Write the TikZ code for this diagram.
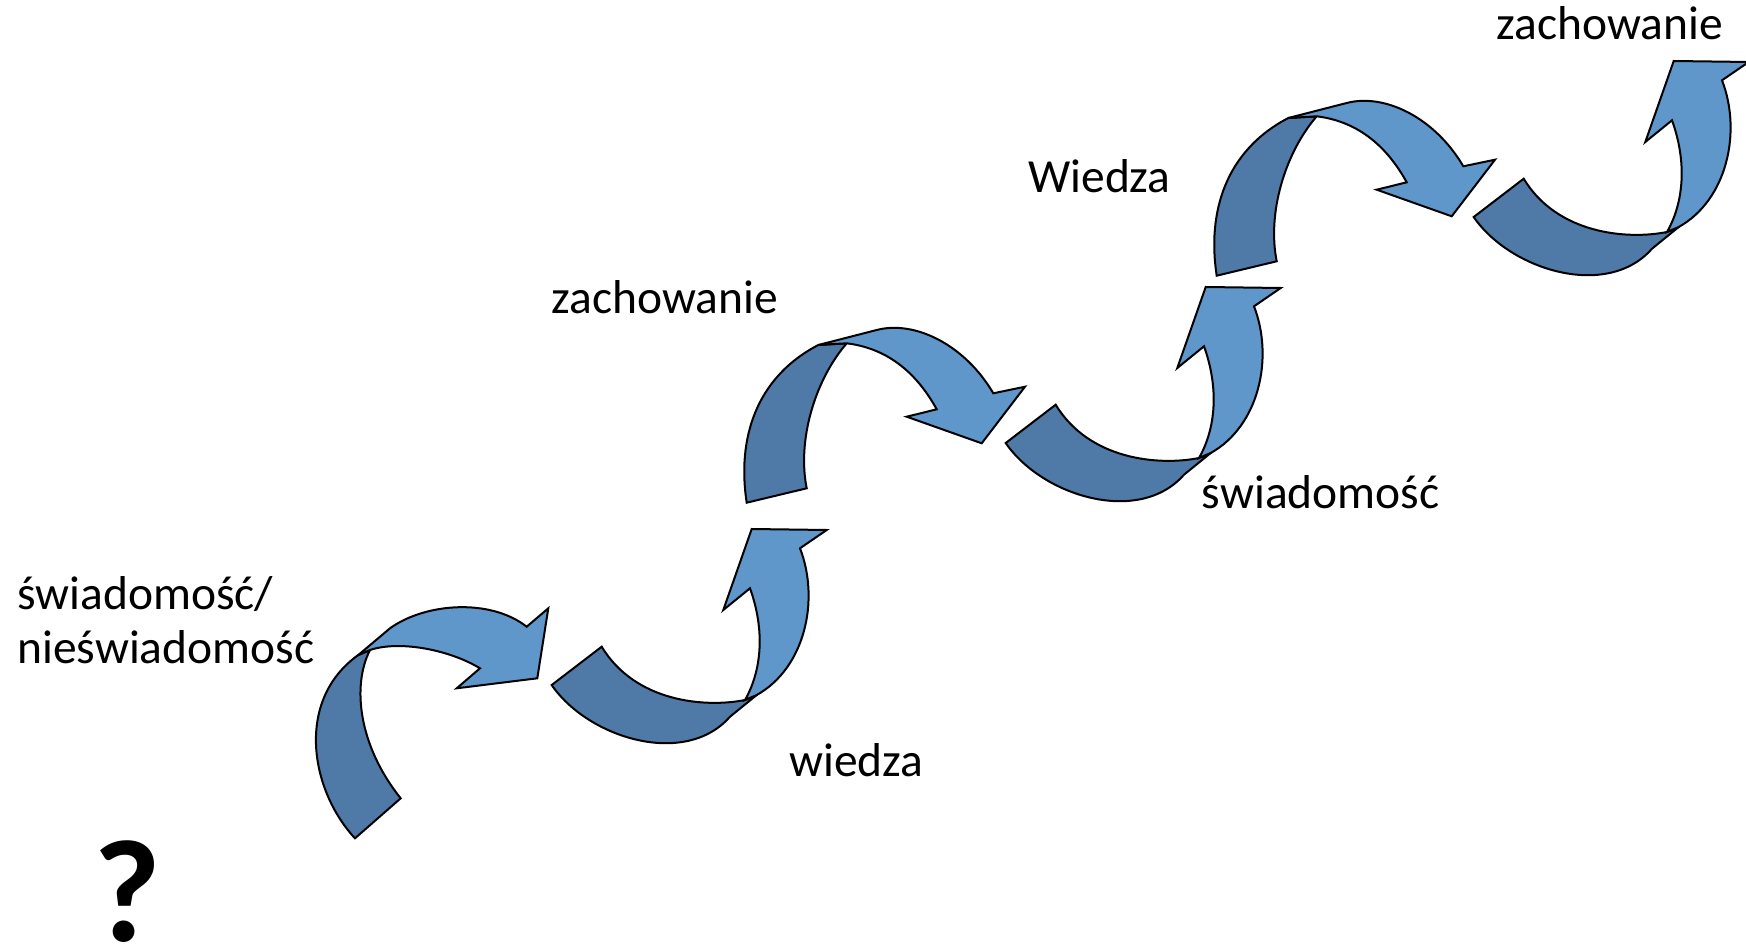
\documentclass[tikz,border=0pt]{standalone}
\usepackage{fontspec}
\setmainfont{Carlito}
\definecolor{lightblue}{RGB}{96,151,202}
\definecolor{darkblue}{RGB}{79,122,167}
\tikzset{
  back/.style={fill=darkblue,draw=black,line width=2pt,line join=miter},
  front/.style={fill=lightblue,draw=black,line width=2pt,line join=miter},
  lbl/.style={anchor=base west,inner sep=0pt,font=\fontsize{47.5}{54}\selectfont},
}
\newcommand{\arrowUshape}{%
  \path[back] (551.7,685) .. controls (588,738) and (685,768) .. (730,716.7) -- (756.7,695)
    -- (745,700) .. controls (705,708) and (635,702) .. (601.7,646.7) -- cycle;
  \path[front] (756.7,695) .. controls (805,668) and (820,600) .. (800,548.3)
    -- (826.7,530) -- (751.7,529) -- (723.3,610) -- (750,588.3)
    .. controls (765,630) and (762,670) .. (745,700) -- cycle;
}
\newcommand{\arrowNshape}{%
  \path[back] (746.7,502.7) .. controls (737,440) and (755,378) .. (818.3,345)
    -- (846.7,343.3) .. controls (815,380) and (797,440) .. (806.7,488.3) -- cycle;
  \path[front] (818.3,345) -- (876.7,330) .. controls (915,320) and (965,345) .. (993.3,393.3)
    -- (1025,386.7) -- (981.7,443.3) -- (906.7,416.7) -- (936.7,409.3)
    .. controls (915,370) and (885,348) .. (846.7,343.3) -- cycle;
}
\begin{document}
\begin{tikzpicture}[x=1pt,y=-1pt]
\useasboundingbox (0,0) rectangle (1746,949);
% first arrow
\path[back] (355,838.3) .. controls (310,790) and (295,700) .. (358.3,655)
  -- (370,650) .. controls (352,685) and (358,745) .. (400.7,798.3) -- cycle;
\path[front] (358.3,655) -- (390,628.3) .. controls (425,603) and (490,598) .. (526.7,626.7)
  -- (548.3,608.3) -- (537.3,678.3) -- (456.7,688.3) -- (480,668.3)
  .. controls (450,650) and (400,640) .. (370,650) -- cycle;
% U arrows
\begin{scope}\arrowUshape\end{scope}
\begin{scope}[shift={(454,-242)}]\arrowUshape\end{scope}
\begin{scope}[shift={(922,-468)}]\arrowUshape\end{scope}
% arch arrows
\begin{scope}\arrowNshape\end{scope}
\begin{scope}[shift={(470,-227)}]\arrowNshape\end{scope}
% labels
\node[lbl] (z2) at (1496.7,39.3) {zachowanie};
\node[lbl] (w2) at (1028,192.7) {Wiedza};
\node[lbl] (z1) at (551.7,313.3) {zachowanie};
\node[lbl] (s2) at (1201.7,508.3) {świadomość};
\node[lbl,align=left,anchor=north west] (s1) at (17,576) {świadomość/\\nieświadomość};
\node[lbl] (w1) at (789,776) {wiedza};
\node[anchor=base west,inner sep=0pt,text depth=0pt,font=\fontsize{146}{150}\selectfont\bfseries] (q) at (93,941) {?};
\end{tikzpicture}
\end{document}
